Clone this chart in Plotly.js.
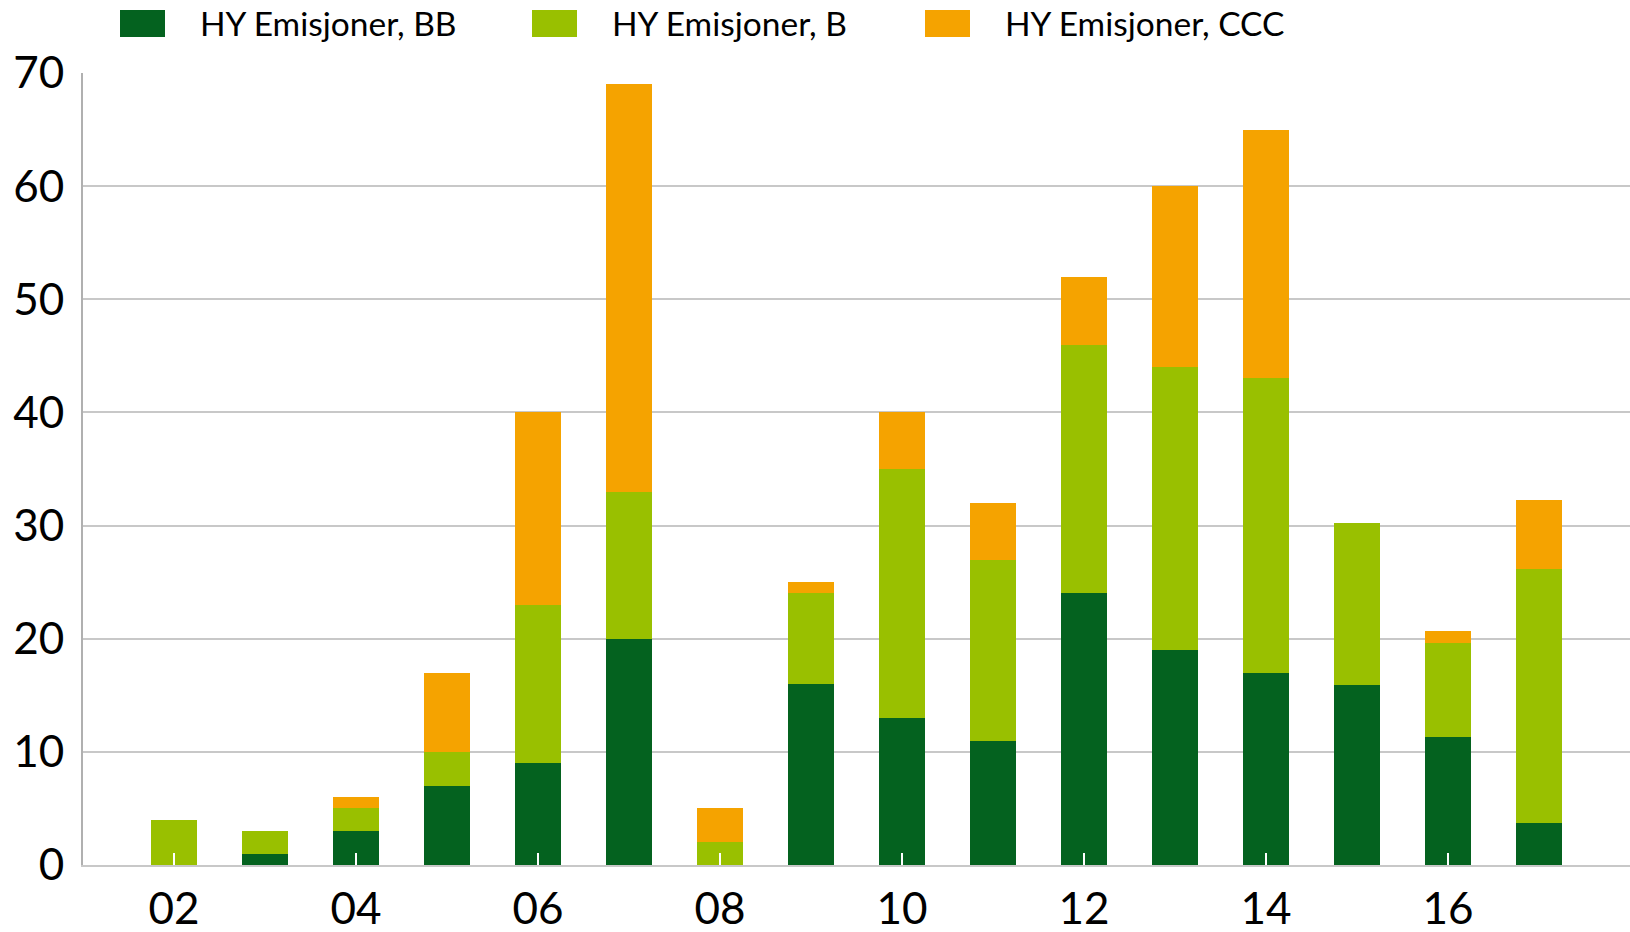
<!DOCTYPE html>
<html>
<head>
<meta charset="utf-8">
<script src="https://cdn.plot.ly/plotly-3.0.1.min.js"></script>
<style>
  html, body { margin: 0; padding: 0; background: #fff; }
  #graph { width: 1630px; height: 932px; }
</style>
</head>
<body>
<div id="graph"></div>
<script>
// years and the even ones that get a label
var years = [2002, 2003, 2004, 2005, 2006, 2007, 2008, 2009, 2010, 2011, 2012, 2013, 2014, 2015, 2016, 2017];
var tickYears = [2002, 2004, 2006, 2008, 2010, 2012, 2014, 2016];
var tickLabels = ["02", "04", "06", "08", "10", "12", "14", "16"];

// issuance per rating bucket
var bbValues  = [0, 1, 3, 7, 9, 20, 0, 16, 13, 11, 24, 19, 17, 15.9, 11.3, 3.7];
var bValues   = [4, 2, 2, 3, 14, 13, 2, 8, 22, 16, 22, 25, 26, 14.3, 8.3, 22.5];
var cccValues = [0, 0, 1, 7, 17, 36, 3, 1, 5, 5, 6, 16, 22, 0, 1.1, 6.1];

var seriesNames = ["HY Emisjoner, BB", "HY Emisjoner, B", "HY Emisjoner, CCC"];
var seriesColors = ["#04621f", "#99c000", "#f5a300"];

var FONT = "Lato, 'Open Sans', sans-serif";

/*
* builds the chart
*/
function drawGraph() {
    var allValues = [bbValues, bValues, cccValues];
    var data = [];

    for (var i = 0; i < allValues.length; i++) {
        data.push({
            x: years,
            y: allValues[i],
            type: "bar",
            name: seriesNames[i],
            marker: { color: seriesColors[i], line: { width: 0 } },
            showlegend: false,
            hoverinfo: "x+y+name"
        });
    }

    // plot area in pixels, used to place the hand made legend
    var left = 83, right = 1630, top = 73, bottom = 865;
    function px(x) { return (x - left) / (right - left); }
    function py(y) { return (bottom - y) / (bottom - top); }

    var boxX = [120, 532, 925];
    var shapes = [], annotations = [];
    for (var j = 0; j < seriesNames.length; j++) {
        shapes.push({
            type: "rect", xref: "paper", yref: "paper",
            x0: px(boxX[j]), x1: px(boxX[j] + 45),
            y0: py(37), y1: py(10),
            fillcolor: seriesColors[j], line: { width: 0 }
        });
        annotations.push({
            xref: "paper", yref: "paper",
            x: px(boxX[j] + 78), y: py(23),
            xanchor: "left", yanchor: "middle",
            text: seriesNames[j], showarrow: false,
            font: { family: FONT, size: 33.5, color: "#000" }
        });
    }

    var layout = {
        width: 1630,
        height: 932,
        barmode: "stack",
        bargap: 0.5,
        margin: { l: left, r: 0, t: top, b: 932 - bottom },
        paper_bgcolor: "#fff",
        plot_bgcolor: "#fff",
        font: { family: FONT, size: 44, color: "#000" },
        showlegend: false,
        xaxis: {
            range: [2001, 2018],
            tickvals: tickYears,
            ticktext: tickLabels,
            ticks: "inside",
            ticklen: 12,
            tickwidth: 2,
            tickcolor: "#ffffff",
            ticklabelstandoff: 4,
            showgrid: false,
            zeroline: false,
            showline: true,
            linecolor: "#c8c8c8",
            linewidth: 2,
            tickfont: { family: FONT, size: 44, color: "#000" }
        },
        yaxis: {
            range: [0, 70],
            dtick: 10,
            ticks: "outside",
            ticklen: 8,
            tickcolor: "rgba(0,0,0,0)",
            showgrid: true,
            gridcolor: "#c8c8c8",
            gridwidth: 2,
            zeroline: false,
            showline: true,
            linecolor: "#b0b0b0",
            linewidth: 2,
            tickfont: { family: FONT, size: 44, color: "#000" }
        },
        shapes: shapes,
        annotations: annotations
    };

    Plotly.newPlot("graph", data, layout, { displayModeBar: false });
}

drawGraph();
</script>
</body>
</html>
